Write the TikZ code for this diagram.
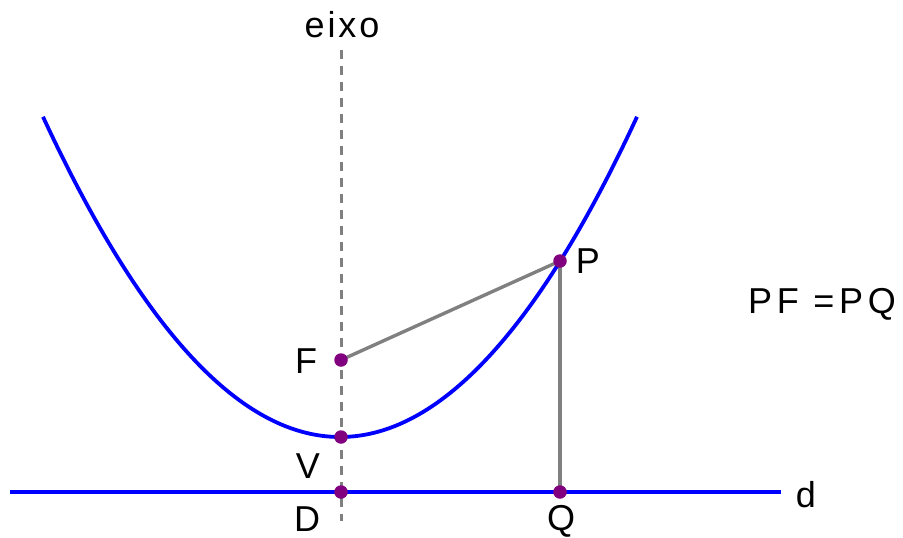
\documentclass[tikz,border=0pt]{standalone}
\usepackage{fontspec}
\setmainfont{Liberation Sans}
\newfontfamily\spacedfont[LetterSpace=8]{Liberation Sans}
\newfontfamily\widefont[LetterSpace=13]{Liberation Sans}
\definecolor{dotpurple}{RGB}{128,0,128}
\definecolor{curveblue}{RGB}{0,0,255}
\definecolor{segGray}{RGB}{128,128,128}
\begin{document}
\begin{tikzpicture}[x=1pt,y=-1pt,
  curve/.style={draw=curveblue,line width=3.8pt},
  seg/.style={draw=segGray,line width=3.4pt},
  axisline/.style={draw=segGray,line width=3pt,dash pattern=on 9pt off 7pt},
  dot/.style={circle,fill=dotpurple,inner sep=0pt,minimum size=13.5pt},
  lbl/.style={anchor=base,inner sep=0pt,font=\fontsize{36}{40}\selectfont}]
\useasboundingbox (0,0) rectangle (903,538);
% key points
\coordinate (F) at (341,360);
\coordinate (V) at (341,437);
\coordinate (D) at (341,492);
\coordinate (P) at (560,261);
\coordinate (Q) at (560,492);
\coordinate (axtop) at (341,50);
\coordinate (axbot) at (341,521);
\coordinate (dl) at (10,492);
\coordinate (dr) at (781,492);
% axis
\draw[axisline] (axtop) -- (axbot);
% directrix
\draw[curve] (dl) -- (dr);
% gray segments
\draw[seg] (F) -- (P);
\draw[seg] (P) -- (Q);
% parabola
\draw[curve] plot[smooth,domain=-297:297,samples=81]
  ({340+\x},{437-0.363*(\x/10)*(\x/10)});
% dots
\node[dot] (Fd) at (F) {};
\node[dot] (Vd) at (V) {};
\node[dot] (Dd) at (D) {};
\node[dot] (Pd) at (P) {};
\node[dot] (Qd) at (Q) {};
% labels
\node[lbl] (eixo) at (342,37) {\spacedfont eixo};
\node[lbl] (Fl) at (306,373) {F};
\node[lbl] (Vl) at (308,478) {V};
\node[lbl] (Dl) at (307,531) {D};
\node[lbl] (Ql) at (561,530) {Q};
\node[lbl] (Pl) at (588,273) {P};
\node[lbl] (dlab) at (806,507) {d};
\node[lbl] (eq) at (822,313) {\widefont PF =PQ};
\end{tikzpicture}
\end{document}
